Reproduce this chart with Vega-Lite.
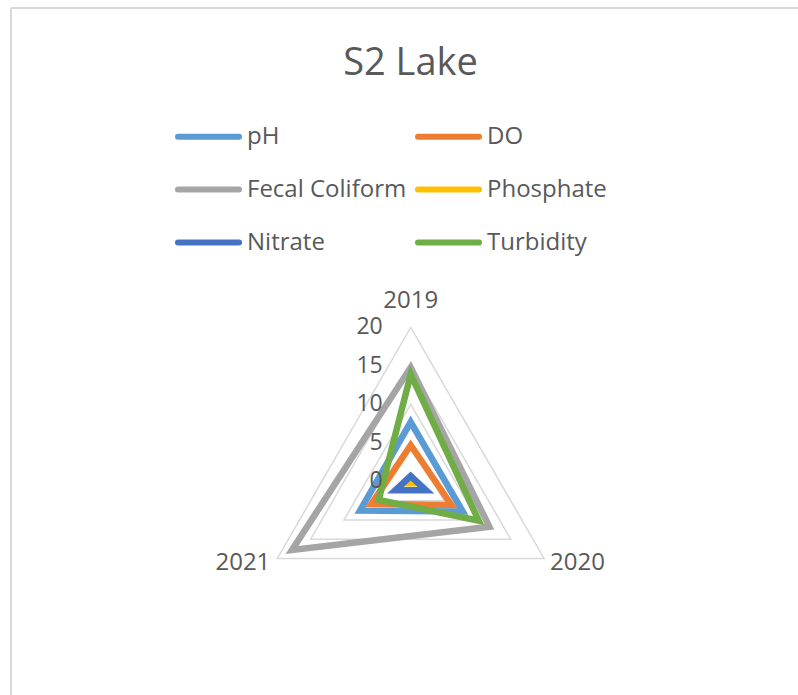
{
  "$schema": "https://vega.github.io/schema/vega-lite/v6.json",
  "width": 787,
  "height": 687,
  "autosize": {"type": "none"},
  "padding": {"left": 11, "top": 8, "right": 0, "bottom": 0},
  "background": "white",
  "config": {
    "view": {"stroke": "#d9d9d9", "strokeWidth": 2, "strokeDash": [787, 1474, 687, 0]},
    "font": "Open Sans"
  },
  "title": {"text": "S2 Lake", "fontSize": 38, "font": "Open Sans", "fontWeight": "normal", "color": "#595959", "anchor": "middle", "orient": "top", "offset": 0, "dx": 6, "dy": 113, "baseline": "bottom"},
  "datasets": {
    "series": [
      {"param": "pH", "year": "2019", "value": 7.7},
      {"param": "pH", "year": "2020", "value": 7.8},
      {"param": "pH", "year": "2021", "value": 7.6},
      {"param": "DO", "year": "2019", "value": 4.7},
      {"param": "DO", "year": "2020", "value": 6.1},
      {"param": "DO", "year": "2021", "value": 5.9},
      {"param": "Fecal Coliform", "year": "2019", "value": 14.8},
      {"param": "Fecal Coliform", "year": "2020", "value": 11.8},
      {"param": "Fecal Coliform", "year": "2021", "value": 17.8},
      {"param": "Phosphate", "year": "2019", "value": 0.2},
      {"param": "Phosphate", "year": "2020", "value": 0.5},
      {"param": "Phosphate", "year": "2021", "value": 0.5},
      {"param": "Nitrate", "year": "2019", "value": 0.7},
      {"param": "Nitrate", "year": "2020", "value": 2.3},
      {"param": "Nitrate", "year": "2021", "value": 2.3},
      {"param": "Turbidity", "year": "2019", "value": 13.9},
      {"param": "Turbidity", "year": "2020", "value": 10.2},
      {"param": "Turbidity", "year": "2021", "value": 4.8}
    ],
    "grid": [
      {"level": 0, "year": "2019"}, {"level": 0, "year": "2020"}, {"level": 0, "year": "2021"},
      {"level": 5, "year": "2019"}, {"level": 5, "year": "2020"}, {"level": 5, "year": "2021"},
      {"level": 10, "year": "2019"}, {"level": 10, "year": "2020"}, {"level": 10, "year": "2021"},
      {"level": 15, "year": "2019"}, {"level": 15, "year": "2020"}, {"level": 15, "year": "2021"},
      {"level": 20, "year": "2019"}, {"level": 20, "year": "2020"}, {"level": 20, "year": "2021"}
    ]
  },
  "layer": [
    {
      "data": {"name": "grid"},
      "transform": [
        {"filter": "datum.level > 0"},
        {"calculate": "datum.year === '2019' ? PI/2 : (datum.year === '2020' ? -PI/6 : 7*PI/6)", "as": "ang"},
        {"calculate": "datum.level * cos(datum.ang)", "as": "px"},
        {"calculate": "datum.level * sin(datum.ang)", "as": "py"}
      ],
      "mark": {"type": "line", "interpolate": "linear-closed", "stroke": "#d9d9d9", "strokeWidth": 1.5},
      "encoding": {
        "x": {"field": "px", "type": "quantitative", "scale": {"domain": [-51.91, 50.30], "nice": false, "zero": false}, "axis": null},
        "y": {"field": "py", "type": "quantitative", "scale": {"domain": [-27.74, 61.48], "nice": false, "zero": false}, "axis": null},
        "detail": {"field": "level", "type": "nominal"},
        "order": {"field": "year", "type": "ordinal"}
      }
    },
    {
      "data": {"name": "series"},
      "transform": [
        {"calculate": "datum.year === '2019' ? PI/2 : (datum.year === '2020' ? -PI/6 : 7*PI/6)", "as": "ang"},
        {"calculate": "datum.value * cos(datum.ang)", "as": "px"},
        {"calculate": "datum.value * sin(datum.ang)", "as": "py"}
      ],
      "mark": {"type": "line", "interpolate": "linear-closed", "strokeWidth": 6.5, "strokeJoin": "miter"},
      "encoding": {
        "x": {"field": "px", "type": "quantitative"},
        "y": {"field": "py", "type": "quantitative"},
        "order": {"field": "year", "type": "ordinal"},
        "color": {
          "field": "param", "type": "nominal",
          "scale": {"domain": ["pH", "DO", "Fecal Coliform", "Phosphate", "Nitrate", "Turbidity"],
                    "range": ["#5B9BD5", "#ED7D31", "#A5A5A5", "#FFC000", "#4472C4", "#70AD47"]},
          "legend": {
            "title": null, "orient": "none", "legendX": 164, "legendY": 95, "direction": "horizontal", "columns": 2,
            "symbolType": "stroke", "symbolSize": 3721, "symbolStrokeWidth": 6,
            "labelFont": "Open Sans", "labelFontSize": 24, "labelColor": "#595959", "labelOffset": 5,
            "columnPadding": -1, "rowPadding": 7, "labelLimit": 300,
            "encode": {"symbols": {"update": {"strokeCap": {"value": "round"}}}}
          }
        }
      }
    },
    {
      "data": {"name": "grid"},
      "transform": [
        {"filter": "datum.year === '2019'"},
        {"calculate": "datum.level", "as": "py"},
        {"calculate": "0", "as": "px"}
      ],
      "mark": {"type": "text", "align": "right", "baseline": "middle", "dx": -28, "fontSize": 23, "font": "Open Sans", "color": "#595959"},
      "encoding": {
        "x": {"field": "px", "type": "quantitative"},
        "y": {"field": "py", "type": "quantitative"},
        "text": {"field": "level", "type": "quantitative"}
      }
    },
    {
      "data": {"name": "grid"},
      "transform": [
        {"filter": "datum.year === '2019' && datum.level === 20"},
        {"calculate": "datum.level", "as": "py"},
        {"calculate": "0", "as": "px"}
      ],
      "mark": {"type": "text", "align": "center", "baseline": "middle", "dy": -26, "fontSize": 24, "font": "Open Sans", "color": "#595959"},
      "encoding": {
        "x": {"field": "px", "type": "quantitative"},
        "y": {"field": "py", "type": "quantitative"},
        "text": {"field": "year", "type": "nominal"}
      }
    },
    {
      "data": {"name": "grid"},
      "transform": [
        {"filter": "datum.year === '2020' && datum.level === 20"},
        {"calculate": "datum.level * cos(-PI/6)", "as": "px"},
        {"calculate": "datum.level * sin(-PI/6)", "as": "py"}
      ],
      "mark": {"type": "text", "align": "left", "baseline": "middle", "dx": 6, "dy": 5, "fontSize": 24, "font": "Open Sans", "color": "#595959"},
      "encoding": {
        "x": {"field": "px", "type": "quantitative"},
        "y": {"field": "py", "type": "quantitative"},
        "text": {"field": "year", "type": "nominal"}
      }
    },
    {
      "data": {"name": "grid"},
      "transform": [
        {"filter": "datum.year === '2021' && datum.level === 20"},
        {"calculate": "datum.level * cos(7*PI/6)", "as": "px"},
        {"calculate": "datum.level * sin(7*PI/6)", "as": "py"}
      ],
      "mark": {"type": "text", "align": "right", "baseline": "middle", "dx": -7, "dy": 5, "fontSize": 24, "font": "Open Sans", "color": "#595959"},
      "encoding": {
        "x": {"field": "px", "type": "quantitative"},
        "y": {"field": "py", "type": "quantitative"},
        "text": {"field": "year", "type": "nominal"}
      }
    }
  ]
}
